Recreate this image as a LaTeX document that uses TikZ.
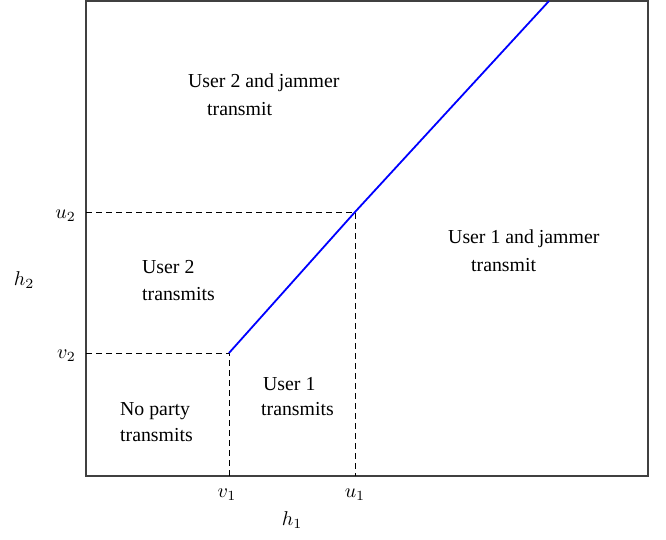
\documentclass[tikz,border=0pt]{standalone}
\usepackage{fontspec}
\setmainfont{Liberation Serif}
\newcommand{\bigmath}[1]{\scalebox{2}{$#1$}}
\begin{document}
\begin{tikzpicture}[x=1pt,y=-1pt,
  lab/.style={font=\fontsize{19.8}{24}\selectfont, inner sep=0pt, anchor=base west},
  mlab/.style={inner sep=0pt},
  guide/.style={dash pattern=on 6pt off 4pt, line width=0.9pt},
  frontier/.style={blue, line width=1.8pt},
  frame/.style={draw=black!75, line width=1.3pt}]
\useasboundingbox (0,0) rectangle (666,539);
\coordinate (TL) at (86,1);
\coordinate (BR) at (648,476);
\draw[frame] (TL) rectangle (BR);
\coordinate (V) at (229,353);
\coordinate (U) at (355,212);
\coordinate (T) at (549,1);
\coordinate (Vx) at (229,476);
\coordinate (Ux) at (355,476);
\coordinate (Vy) at (86,353);
\coordinate (Uy) at (86,212);
\draw[guide] (Uy) -- (U) -- (Ux);
\draw[guide] (Vy) -- (V) -- (Vx);
\draw[frontier] (V) -- (U) -- (T);
% axis tick labels
\node[mlab, anchor=base east] (lu2) at (76,218) {\bigmath{u_2}};
\node[mlab, anchor=base east] (lv2) at (76,358) {\bigmath{v_2}};
\node[mlab, anchor=base] (lv1) at (227,497) {\bigmath{v_1}};
\node[mlab, anchor=base] (lu1) at (355,497) {\bigmath{u_1}};
\node[mlab, anchor=base] (lh1) at (292,525) {\bigmath{h_1}};
\node[mlab, anchor=base] (lh2) at (24,285) {\bigmath{h_2}};
% region labels
\node[lab] (a1) at (188,87) {User 2 and jammer};
\node[lab] (a2) at (207,115) {transmit};
\node[lab] (b1) at (142,273) {User 2};
\node[lab] (b2) at (142,300) {transmits};
\node[lab] (c1) at (448,243) {User 1 and jammer};
\node[lab] (c2) at (471,271) {transmit};
\node[lab] (d1) at (263,390) {User 1};
\node[lab] (d2) at (261,415) {transmits};
\node[lab] (e1) at (120,415) {No party};
\node[lab] (e2) at (120,441) {transmits};
\end{tikzpicture}
\end{document}
